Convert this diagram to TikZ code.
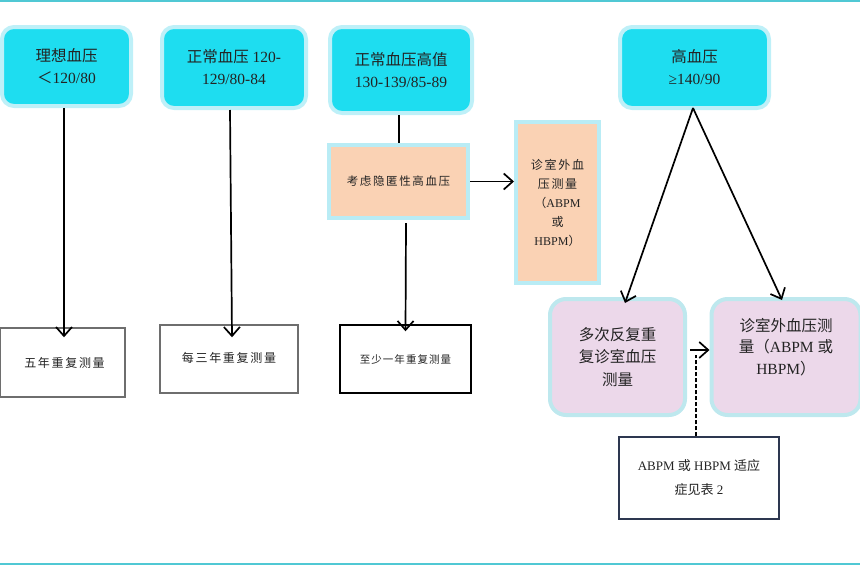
\documentclass[tikz,border=0pt]{standalone}
\usepackage{fontspec}
\setmainfont{Liberation Serif}
\newfontfamily\cjk{Noto Sans CJK SC}
\newfontfamily\cjks[LetterSpace=14]{Noto Sans CJK SC}
\usetikzlibrary{arrows.meta,calc}
\definecolor{topcyan}{RGB}{30,221,240}
\definecolor{cyanedge}{RGB}{190,240,248}
\definecolor{peachfill}{RGB}{250,210,180}
\definecolor{peachedge}{RGB}{185,236,245}
\definecolor{pinkfill}{RGB}{236,216,234}
\definecolor{pinkedge}{RGB}{190,232,238}
\definecolor{rulecol}{RGB}{80,200,212}
\definecolor{txt}{RGB}{35,35,35}
\definecolor{grayedge}{RGB}{110,110,110}
\definecolor{noteedge}{RGB}{45,55,80}
\begin{document}
\begin{tikzpicture}[x=1pt,y=1pt,
  every node/.style={text=txt},
  cyanbox/.style={draw=cyanedge, line width=4pt, fill=topcyan, rounded corners=12pt,
    align=center, inner sep=0pt, font=\fontsize{15.5}{22}\selectfont},
  peachbox/.style={draw=peachedge, line width=4pt, fill=peachfill, align=center, inner sep=0pt},
  pinkbox/.style={draw=pinkedge, line width=4pt, fill=pinkfill, rounded corners=16pt,
    align=center, inner sep=0pt, font=\fontsize{15.5}{22.5}\selectfont},
  plainbox/.style={draw=grayedge, line width=1.5pt, fill=white, align=center, inner sep=0pt,
    font=\fontsize{12}{14}\selectfont},
  conn/.style={draw=black, line width=1.7pt, -{Straight Barb[length=9pt,width=16pt,line width=1.7pt]}},
  plainconn/.style={draw=black, line width=1.7pt},
]
\useasboundingbox (0,0) rectangle (860,-576);
% rules
\draw[rulecol, line width=2.2pt] (0,-1) -- (860,-1);
\draw[rulecol, line width=2.2pt] (0,-564) -- (860,-564);

% top boxes
\node[cyanbox, minimum width=129pt, minimum height=79pt] (A) at (66.5,-66.5)
  {{\cjk 理想血压}\\{\cjk ＜}120/80};
\node[cyanbox, minimum width=144pt, minimum height=81pt] (B) at (234,-67.5)
  {{\cjk 正常血压} 120-\\129/80-84};
\node[cyanbox, minimum width=142pt, minimum height=86pt] (C) at (401,-70)
  {{\cjk 正常血压高值}\\130-139/85-89};
\node[cyanbox, minimum width=149pt, minimum height=81pt] (D) at (694.5,-67.5)
  {{\cjk 高血压}\\≥140/90};

% peach boxes
\node[peachbox, minimum width=139pt, minimum height=73pt, font=\fontsize{11.5}{14}\selectfont] (P1) at (398.5,-181.5)
  {\cjks 考虑隐匿性高血压};
\node[peachbox, minimum width=83pt, minimum height=161pt, font=\fontsize{12}{19}\selectfont] (P2) at (557.5,-202.5)
  {{\cjks 诊室外血}\\{\cjks 压测量}\\{\cjk （}ABPM\\{\cjk 或}\\HBPM{\cjk ）}};

% bottom boxes
\node[plainbox, minimum width=125pt, minimum height=69pt] (E1) at (62.5,-362.5)
  {\hspace*{4pt}{\cjks 五年重复测量}};
\node[plainbox, minimum width=138pt, minimum height=68pt] (E2) at (229,-359)
  {\raisebox{3pt}{\cjks 每三年重复测量}};
\node[plainbox, draw=black, minimum width=131pt, minimum height=68pt, font=\fontsize{10.5}{13}\selectfont] (E3) at (405.5,-359)
  {{\cjk\addfontfeature{LetterSpace=10} 至少一年重复测量}};

% pink boxes
\node[pinkbox, minimum width=135pt, minimum height=116pt] (F1) at (617.5,-357)
  {{\cjk 多次反复重}\\{\cjk 复诊室血压}\\{\cjk 测量}};
\node[pinkbox, minimum width=149pt, minimum height=116pt] (F2) at (786,-357) {};
\node[align=center, inner sep=0pt, font=\fontsize{15.5}{21.5}\selectfont] (F2t) at ([yshift=10pt]F2.center)
  {{\cjk 诊室外血压测}\\{\cjk 量（}ABPM {\cjk 或}\\HBPM{\cjk ）}};

% note box
\node[plainbox, draw=noteedge, line width=1.2pt, minimum width=160pt, minimum height=82pt,
  font=\fontsize{13}{24}\selectfont] (N) at (699,-478)
  {ABPM {\cjk 或} HBPM {\cjk 适应}\\{\cjk 症见表} 2};

% connectors
\draw[conn] ([xshift=-2.5pt]A.south) -- ([xshift=1.5pt,yshift=-10pt]E1.north);
\draw[conn] ([xshift=-4pt]B.south) -- ([xshift=3pt,yshift=-13pt]E2.north);
\draw[plainconn] ([xshift=-2pt]C.south) -- ([xshift=0.5pt]P1.north);
\draw[conn] ([xshift=7.5pt,yshift=-3pt]P1.south) -- ([yshift=-7pt]E3.north);
\draw[conn] (P1.east) -- (P1.east -| P2.west);
\draw[conn] ([xshift=-1.5pt,yshift=2pt]D.south) -- ([xshift=7.5pt,yshift=-6pt]F1.north);
\draw[conn] ([xshift=-1.5pt,yshift=2pt]D.south) -- ([xshift=-4pt,yshift=-3pt]F2.north);
\coordinate (dtop) at (696,-355);
\draw[conn] ([xshift=3pt,yshift=7pt]F1.east) -- ([yshift=7pt]F2.west);
\draw[plainconn, dash pattern=on 4pt off 2pt] (N.north -| dtop) -- (dtop);
\end{tikzpicture}
\end{document}
